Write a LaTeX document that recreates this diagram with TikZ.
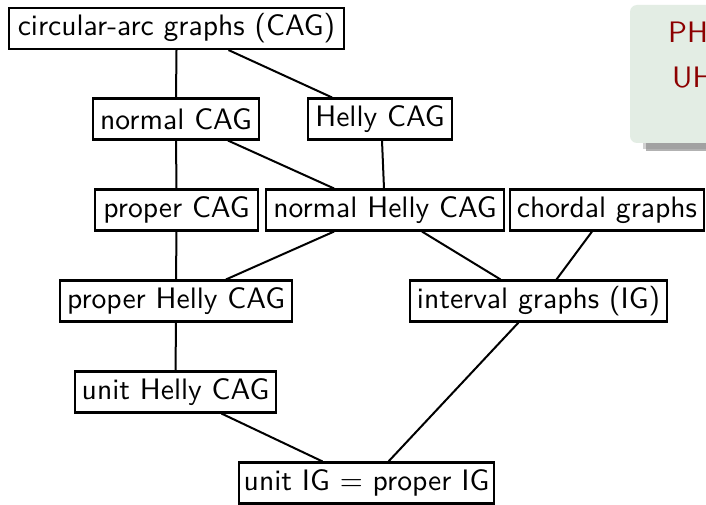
\documentclass[tikz,border=0pt]{standalone}
\usepackage{fontspec}
\setsansfont{lmsans10-regular.otf}
\begin{document}
\begin{tikzpicture}[x=1pt,y=-1pt,
  cls/.style={draw=black,line width=2.1pt,fill=white,inner sep=0pt,
    minimum height=41pt,font=\sffamily\fontsize{29.6}{35}\selectfont,anchor=center},
  link/.style={line width=2pt},
  ptext/.style={text=red!55!black,font=\sffamily\fontsize{29.6}{35}\selectfont,anchor=west,inner sep=0pt}]
\useasboundingbox (0,0) rectangle (706,505);
\fill[white] (0,0) rectangle (706,505);
% side panel, partly cut off at the right edge
\begin{scope}
\clip (0,0) rectangle (706,505);
\fill[black!60,opacity=0.5] (646,10) rectangle (720,151);
\fill[black!45,opacity=0.4] (643,8) rectangle (720,149);
\fill[rounded corners=7pt,fill={rgb,255:red,227;green,237;blue,228}] (630,5) rectangle (740,143);
\node[ptext] (ph) at (668,32) {PH};
\node[ptext] (uh) at (672,78) {UH};
\end{scope}
% classes
\node[cls,minimum width=335pt] (cag)  at (176.5,28.5) {circular-arc graphs (CAG)};
\node[cls,minimum width=166pt] (ncag) at (176,119) {normal CAG};
\node[cls,minimum width=144pt] (hcag) at (380,119) {Helly CAG};
\node[cls,minimum width=163pt] (pcag) at (176.5,210) {proper CAG};
\node[cls,minimum width=238pt] (nhcag) at (385,210) {normal Helly CAG};
\node[cls,minimum width=194pt] (chord) at (607,210) {chordal graphs};
\node[cls,minimum width=232pt] (phcag) at (176,301) {proper Helly CAG};
\node[cls,minimum width=257pt] (ig)    at (538.5,301) {interval graphs (IG)};
\node[cls,minimum width=201pt] (uhcag) at (175.5,392) {unit Helly CAG};
\node[cls,minimum width=255pt] (uig)   at (366.5,483) {unit IG = proper IG};
% inclusions
\draw[link] (cag.south) -- (ncag.north);
\draw[link] ([xshift=52pt]cag.south) -- ([xshift=-48pt]hcag.north);
\draw[link] (ncag.south) -- (pcag.north);
\draw[link] ([xshift=52pt]ncag.south) -- ([xshift=-51pt]nhcag.north);
\draw[link] ([xshift=2pt]hcag.south) -- ([xshift=-1pt]nhcag.north);
\draw[link] (pcag.south) -- (phcag.north);
\draw[link] ([xshift=-51pt]nhcag.south) -- ([xshift=50pt]phcag.north);
\draw[link] ([xshift=37pt]nhcag.south) -- ([xshift=-38pt]ig.north);
\draw[link] ([xshift=-15pt]chord.south) -- ([xshift=18pt]ig.north);
\draw[link] (phcag.south) -- (uhcag.north);
\draw[link] ([xshift=46pt]uhcag.south) -- ([xshift=-44pt]uig.north);
\draw[link] ([xshift=-20pt]ig.south) -- ([xshift=22pt]uig.north);
\end{tikzpicture}
\end{document}
